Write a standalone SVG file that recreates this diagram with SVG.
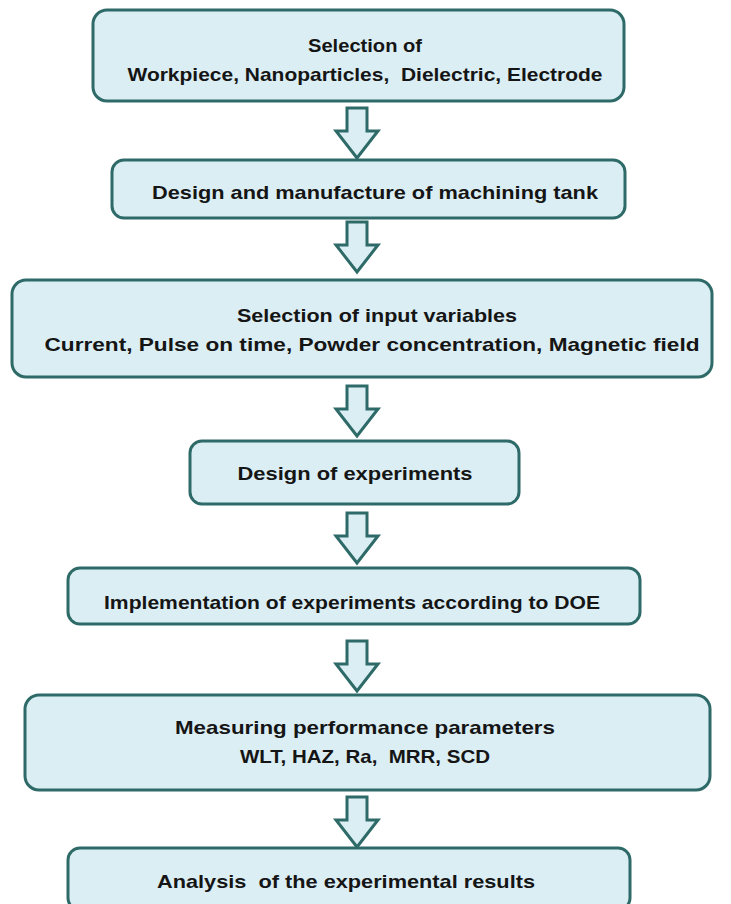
<svg xmlns="http://www.w3.org/2000/svg" width="731" height="904" viewBox="0 0 731 904">
<style>
.box{fill:#dbeef4;stroke:#2e6b68;stroke-width:3}
.arr{fill:#dbeef4;stroke:#2e6b68;stroke-width:3;stroke-linejoin:miter}
text{font-family:"Liberation Sans",Arial,sans-serif;font-weight:bold;font-size:19px;fill:#151515;text-anchor:middle}
</style>
<rect width="731" height="904" fill="#ffffff"/>
<defs>
<path id="ar" d="M-10,0 H10 V23 H21 L0,50 L-21,23 H-10 Z"/>
</defs>
<g id="connectors">
<use href="#ar" class="arr" x="357" y="108"/>
<use href="#ar" class="arr" x="357" y="222"/>
<use href="#ar" class="arr" x="357" y="386"/>
<use href="#ar" class="arr" x="357" y="513"/>
<use href="#ar" class="arr" x="357" y="641"/>
<use href="#ar" class="arr" x="357" y="797"/>
</g>
<g id="n1">
<rect class="box" x="93" y="10" width="531" height="91" rx="14"/>
<text x="365" y="52" textLength="114" lengthAdjust="spacingAndGlyphs">Selection of</text>
<text x="365" y="81" textLength="475" lengthAdjust="spacingAndGlyphs" xml:space="preserve">Workpiece, Nanoparticles,  Dielectric, Electrode</text>
</g>
<g id="n2">
<rect class="box" x="112" y="160" width="513" height="58" rx="12"/>
<text x="375" y="199" textLength="446" lengthAdjust="spacingAndGlyphs">Design and manufacture of machining tank</text>
</g>
<g id="n3">
<rect class="box" x="12" y="280" width="700" height="97" rx="14"/>
<text x="377" y="322" textLength="280" lengthAdjust="spacingAndGlyphs">Selection of input variables</text>
<text x="372" y="351" textLength="655" lengthAdjust="spacingAndGlyphs">Current, Pulse on time, Powder concentration, Magnetic field</text>
</g>
<g id="n4">
<rect class="box" x="190" y="441" width="329" height="63" rx="12"/>
<text x="355" y="480" textLength="235" lengthAdjust="spacingAndGlyphs">Design of experiments</text>
</g>
<g id="n5">
<rect class="box" x="68" y="568" width="572" height="56" rx="12"/>
<text x="352" y="609" textLength="496" lengthAdjust="spacingAndGlyphs">Implementation of experiments according to DOE</text>
</g>
<g id="n6">
<rect class="box" x="25" y="695" width="685" height="95" rx="14"/>
<text x="365" y="734" textLength="380" lengthAdjust="spacingAndGlyphs">Measuring performance parameters</text>
<text x="365" y="763" textLength="250" lengthAdjust="spacingAndGlyphs" xml:space="preserve">WLT, HAZ, Ra,  MRR, SCD</text>
</g>
<g id="n7">
<rect class="box" x="68" y="848" width="562" height="62" rx="12"/>
<text x="346" y="888" textLength="378" lengthAdjust="spacingAndGlyphs" xml:space="preserve">Analysis  of the experimental results</text>
</g>
</svg>
